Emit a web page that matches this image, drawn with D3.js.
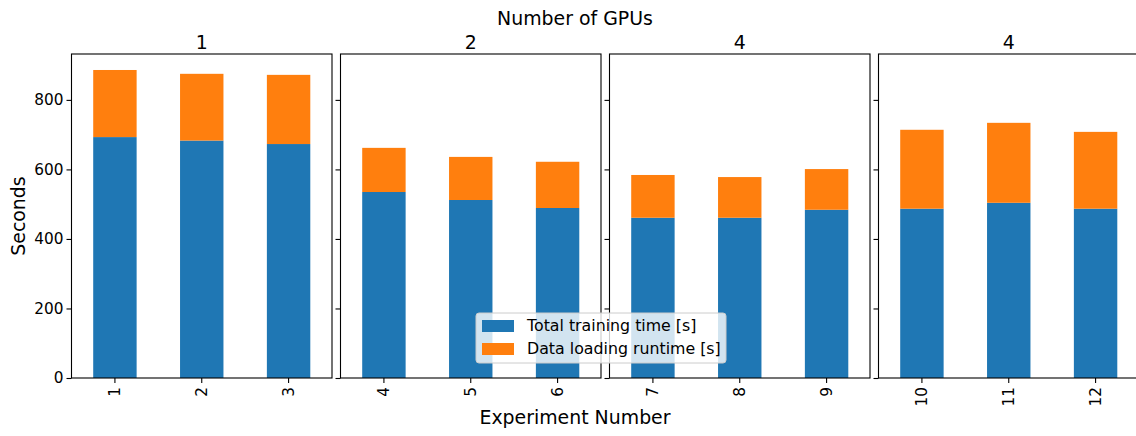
<!DOCTYPE html>
<html>
<head>
<meta charset="utf-8">
<script src="https://cdn.jsdelivr.net/npm/d3@7"></script>
<style>
  html, body { margin: 0; padding: 0; background: #fff; }
  svg { display: block; font-family: "DejaVu Sans", sans-serif; }
</style>
</head>
<body>
<svg id="chart" width="1136" height="436"></svg>
<script>
// Panel titles (number of GPUs) and the experiments shown in each panel
const gpuTitles = ["1", "2", "4", "4"];
const experiments = ["1", "2", "3", "4", "5", "6", "7", "8", "9", "10", "11", "12"];
// Seconds per experiment
const trainingTime = [693, 683, 673, 535, 512, 489, 461, 461, 484, 487, 504, 487];
const dataLoading = [193, 192, 199, 127, 124, 133, 123, 117, 117, 227, 230, 221];
const yTicks = [0, 200, 400, 600, 800];
const seriesNames = ["Total training time [s]", "Data loading runtime [s]"];
const colors = ["#1f77b4", "#ff7f0e"];

const svg = d3.select("#chart");
const plotTop = 54, plotBottom = 378;
const panelW = 260.5, panelStep = 269, firstLeft = 71.5;
const perPanel = 3;
const tickFont = 15.3, labelFont = 18.9, legendFont = 15.8;

const y = d3.scaleLinear().domain([0, 932]).range([plotBottom, plotTop]);

const rows = experiments.map((e, i) => ({
  exp: e,
  panel: Math.floor(i / perPanel),
  training: trainingTime[i],
  loading: dataLoading[i]
}));
const stack = d3.stack().keys(["training", "loading"])(rows);

gpuTitles.forEach((title, p) => {
  const left = firstLeft + p * panelStep;
  const g = svg.append("g").attr("transform", `translate(${left},0)`);
  const exps = experiments.slice(p * perPanel, (p + 1) * perPanel);
  const x = d3.scaleBand().domain(exps).range([0, panelW]).paddingInner(0.5).paddingOuter(0.25);

  // stacked bars
  stack.forEach((layer, k) => {
    g.selectAll(null)
      .data(layer.filter(d => d.data.panel === p))
      .join("rect")
      .attr("x", d => x(d.data.exp))
      .attr("width", x.bandwidth())
      .attr("y", d => y(d[1]))
      .attr("height", d => y(d[0]) - y(d[1]))
      .attr("fill", colors[k]);
  });

  // y axis: ticks on every panel, labels only on the first
  const yAxis = d3.axisLeft(y).tickValues(yTicks).tickSize(5).tickPadding(3)
    .tickFormat(p === 0 ? d3.format("d") : () => "");
  const ya = g.append("g").call(yAxis);
  ya.select(".domain").remove();
  ya.selectAll("line").attr("stroke", "#000").attr("stroke-width", 1.1);
  ya.selectAll("text").attr("font-size", tickFont).attr("fill", "#000").attr("font-family", "DejaVu Sans");

  // x axis with rotated labels
  const xAxis = d3.axisBottom(x).tickSize(5).tickPadding(4);
  const xa = g.append("g").attr("transform", `translate(0,${plotBottom})`).call(xAxis);
  xa.select(".domain").remove();
  xa.selectAll("line").attr("stroke", "#000").attr("stroke-width", 1.1);
  xa.selectAll("text")
    .attr("font-size", tickFont).attr("fill", "#000").attr("font-family", "DejaVu Sans")
    .attr("transform", "rotate(-90)")
    .attr("text-anchor", "end")
    .attr("x", -9).attr("y", 0).attr("dy", "0.35em");

  // frame
  g.append("rect")
    .attr("x", 0).attr("y", plotTop)
    .attr("width", panelW).attr("height", plotBottom - plotTop)
    .attr("fill", "none").attr("stroke", "#000").attr("stroke-width", 1.1);

  // panel title
  g.append("text")
    .attr("x", panelW / 2).attr("y", 49)
    .attr("text-anchor", "middle")
    .attr("font-size", labelFont)
    .text(title);
});

// figure-level labels
svg.append("text")
  .attr("x", 575).attr("y", 25)
  .attr("text-anchor", "middle").attr("font-size", labelFont)
  .text("Number of GPUs");

svg.append("text")
  .attr("x", 575).attr("y", 424)
  .attr("text-anchor", "middle").attr("font-size", labelFont)
  .text("Experiment Number");

svg.append("text")
  .attr("transform", `translate(25,${(plotTop + plotBottom) / 2}) rotate(-90)`)
  .attr("text-anchor", "middle").attr("font-size", labelFont)
  .text("Seconds");

// legend
const legend = svg.append("g").attr("transform", "translate(476,313)");
legend.append("rect")
  .attr("width", 250).attr("height", 50).attr("rx", 3)
  .attr("fill", "#fff").attr("fill-opacity", 0.8)
  .attr("stroke", "#cccccc").attr("stroke-width", 1);
seriesNames.forEach((name, i) => {
  legend.append("rect")
    .attr("x", 6).attr("y", 7 + i * 23)
    .attr("width", 32).attr("height", 12)
    .attr("fill", colors[i]);
  legend.append("text")
    .attr("x", 51).attr("y", 18 + i * 23)
    .attr("font-size", legendFont)
    .text(name);
});
</script>
</body>
</html>
